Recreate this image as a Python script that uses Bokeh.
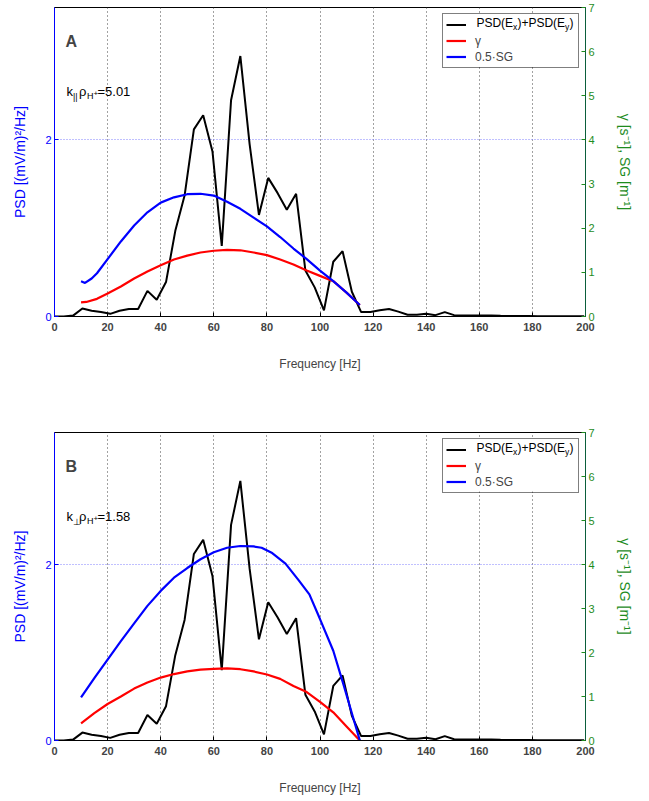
from bokeh.plotting import figure
from bokeh.models import (Range1d, LinearAxis, FixedTicker, Legend, LegendItem,
                          Label, BoxAnnotation)
from bokeh.layouts import column
from bokeh.embed import file_html
from bokeh.resources import INLINE

# PSD(Ex)+PSD(Ey) [(mV/m)^2/Hz], same spectrum in both panels
freq = [0, 3.5, 7, 10.5, 14, 17.5, 21, 24.5, 28, 31.5, 35, 38.5, 42, 45.5, 49,
        52.5, 56, 59.5, 63, 66.5, 70, 73.5, 77, 80.5, 84, 87.5, 91, 94.5, 98,
        101.5, 105, 108.5, 112, 115.5, 119, 122.5, 126, 129.5, 133, 136.5, 140,
        143.5, 147, 150.5, 154, 157.5, 161, 164.5, 168, 171.5, 175, 178.5, 182,
        185.5, 189, 192.5, 196, 199.5]
psd = [0.0, 0.0, 0.01, 0.09, 0.065, 0.05, 0.03, 0.065, 0.085, 0.085, 0.29, 0.19,
       0.39, 0.97, 1.37, 2.12, 2.28, 1.87, 0.80, 2.45, 2.95, 1.95, 1.15, 1.57,
       1.40, 1.21, 1.39, 0.52, 0.33, 0.07, 0.62, 0.74, 0.28, 0.05, 0.05, 0.07,
       0.085, 0.055, 0.02, 0.02, 0.03, 0.015, 0.05, 0.015, 0.01, 0.01, 0.01,
       0.012, 0.008, 0.006, 0.005, 0.005, 0.004, 0.004, 0.003, 0.003, 0.002, 0.002]

# panel A (k_par rho = 5.01), right axis units
gamma_a_freq = [10, 12, 16, 20, 25, 30, 35, 40, 45, 50, 55, 60, 65, 70, 75, 80,
                85, 90, 95, 100, 105, 110, 115]
gamma_a = [0.32, 0.33, 0.40, 0.52, 0.68, 0.86, 1.02, 1.16, 1.29, 1.38, 1.45, 1.49,
           1.51, 1.50, 1.45, 1.39, 1.29, 1.18, 1.04, 0.92, 0.80, 0.54, 0.26]
sg_a_freq = [10, 11.5, 14, 16, 20, 25, 30, 35, 40, 45, 50, 55, 60, 65, 70, 75, 80,
             85, 90, 95, 100, 105, 110, 115]
half_sg_a = [0.80, 0.76, 0.86, 0.98, 1.30, 1.70, 2.06, 2.36, 2.58, 2.70, 2.77, 2.78,
             2.74, 2.60, 2.44, 2.24, 2.04, 1.80, 1.54, 1.30, 1.04, 0.80, 0.54, 0.26]

# panel B (k_perp rho = 1.58)
gamma_b_freq = [10, 15, 20, 25, 30, 35, 40, 45, 50, 55, 60, 65, 70, 75, 80, 85,
                90, 95, 100, 105, 110, 115]
gamma_b = [0.39, 0.62, 0.83, 1.00, 1.18, 1.32, 1.43, 1.51, 1.57, 1.61, 1.63, 1.64,
           1.62, 1.57, 1.50, 1.40, 1.24, 1.10, 0.88, 0.64, 0.32, 0.0]
sg_b_freq = [10, 15, 20, 25, 30, 35, 40, 45, 50, 55, 60, 65, 70, 75, 78, 82, 87,
             92, 96, 100, 105, 109, 115]
half_sg_b = [0.98, 1.42, 1.84, 2.26, 2.66, 3.06, 3.40, 3.70, 3.92, 4.12, 4.28, 4.38,
             4.42, 4.41, 4.38, 4.26, 4.02, 3.64, 3.32, 2.76, 2.04, 1.24, 0.0]

x_ticks = [0, 20, 40, 60, 80, 100, 120, 140, 160, 180, 200]
psd_ticks = [0, 2]
rate_ticks = [0, 1, 2, 3, 4, 5, 6, 7]

FONT = "Liberation Sans"
BLUE = "#0000ff"
RED = "#ff0000"
GREEN = "#1e8c1e"


def add_pieces(p, x, y, pieces, baseline="alphabetic"):
    # text with sub/superscripts built from several labels
    for text, size, dx, dy in pieces:
        p.add_layout(Label(x=x, y=y, x_offset=dx, y_offset=dy, text=text,
                           text_font=FONT, text_font_size=size,
                           text_baseline=baseline, text_color="black"))


def make_panel(letter, k_sub, k_val, g_f, g_v, s_f, s_v, frame_h, top, bottom):
    p = figure(frame_width=531, frame_height=frame_h,
               x_range=Range1d(0, 200), y_range=Range1d(0, 3.5),
               output_backend="svg", toolbar_location=None,
               min_border_left=54, min_border_right=62,
               min_border_top=top, min_border_bottom=bottom,
               background_fill_color="white", border_fill_color="white",
               outline_line_color="black")
    p.extra_y_ranges = {"rate": Range1d(0, 7)}

    # x axis
    xa = p.xaxis[0]
    xa.ticker = FixedTicker(ticks=x_ticks)
    xa.axis_label = "Frequency [Hz]"
    xa.axis_label_text_font = FONT
    xa.axis_label_text_font_size = "12px"
    xa.axis_label_text_font_style = "normal"
    xa.axis_label_standoff = 23
    xa.major_label_text_font = FONT
    xa.major_label_text_font_size = "11px"
    xa.major_label_text_font_style = "bold"
    xa.major_label_standoff = 6
    xa.major_tick_in = 4
    xa.major_tick_out = 0
    xa.axis_line_color = "black"

    # left axis, PSD
    ya = p.yaxis[0]
    ya.ticker = FixedTicker(ticks=psd_ticks)
    ya.axis_label = "PSD [(mV/m)²/Hz]"
    ya.axis_label_text_font = FONT
    ya.axis_label_text_font_size = "14px"
    ya.axis_label_text_font_style = "normal"
    ya.axis_label_text_color = BLUE
    ya.axis_label_standoff = 14
    ya.major_label_text_font = FONT
    ya.major_label_text_font_size = "11px"
    ya.major_label_text_color = BLUE
    ya.major_label_standoff = 3
    ya.axis_line_color = BLUE
    ya.major_tick_line_color = BLUE
    ya.major_tick_in = 4
    ya.major_tick_out = 0

    # right axis, growth rate / spatial growth
    ra = LinearAxis(y_range_name="rate", ticker=FixedTicker(ticks=rate_ticks),
                    axis_label="γ [s⁻¹], SG [m⁻¹]")
    ra.axis_label_text_font = FONT
    ra.axis_label_text_font_size = "14px"
    ra.axis_label_text_font_style = "normal"
    ra.axis_label_text_color = GREEN
    ra.axis_label_standoff = 19
    ra.major_label_text_font = FONT
    ra.major_label_text_font_size = "11px"
    ra.major_label_text_color = GREEN
    ra.major_label_standoff = 3
    ra.axis_line_color = "#0b5e3b"
    ra.major_tick_line_color = GREEN
    ra.major_tick_in = 4
    ra.major_tick_out = 0
    p.add_layout(ra, "right")

    p.xgrid.ticker = FixedTicker(ticks=x_ticks)
    p.xgrid.grid_line_color = "#444444"
    p.xgrid.grid_line_dash = "1 3"
    p.xgrid.grid_line_width = 1
    p.ygrid.ticker = FixedTicker(ticks=[2])
    p.ygrid.grid_line_color = "#8080ff"
    p.ygrid.grid_line_dash = "1 2"
    p.ygrid.grid_line_width = 1

    # white fill behind the legend box (legend itself is transparent)
    px_y = 3.5 / frame_h
    px_x = 200 / 531
    p.add_layout(BoxAnnotation(left=(531 - 142) * px_x, right=(531 - 6) * px_x,
                               top=3.5 - 6 * px_y, bottom=3.5 - 59 * px_y,
                               fill_color="white", fill_alpha=1.0,
                               line_alpha=0, level="glyph"))

    r_psd = p.line(freq, psd, line_color="black", line_width=2)
    r_gam = p.line(g_f, g_v, line_color=RED, line_width=2.2, y_range_name="rate")
    r_sg = p.line(s_f, s_v, line_color=BLUE, line_width=2.2, y_range_name="rate")

    legend = Legend(items=[LegendItem(label=" ", renderers=[r_psd]),
                           LegendItem(label="γ", renderers=[r_gam]),
                           LegendItem(label="0.5·SG", renderers=[r_sg])],
                    location="top_right", margin=6, padding=3, spacing=1,
                    glyph_width=20, glyph_height=15, label_height=15,
                    label_width=100, label_standoff=9,
                    label_text_font=FONT, label_text_font_size="12px",
                    border_line_color="black", border_line_width=1.5,
                    background_fill_alpha=0.0)
    p.add_layout(legend)

    # first legend label with subscripts
    add_pieces(p, 158.9, 3.5 - 16.5 * px_y,
               [("PSD(E", "12px", 0, 1), ("x", "8.5px", 36.7, -3),
                (")+PSD(E", "12px", 41.0, 1), ("y", "8.5px", 88.7, -3),
                (")", "12px", 93.0, 1)], baseline="middle")

    p.add_layout(Label(x=4.1, y=3.013, text=letter, text_font=FONT,
                       text_font_size="16px", text_font_style="bold"))
    add_pieces(p, 4.5, 2.545, [("k", "13px", 0, 0), (k_sub, "9px", 6.5, -5),
                               ("ρ", "13px", 12.5, 0), ("H", "9px", 20.5, -4),
                               ("+", "8px", 27, -2), ("=" + k_val, "13px", 31, 0)])
    return p


p1 = make_panel("A", "||", "5.01", gamma_a_freq, gamma_a, sg_a_freq, half_sg_a,
                309, 7, 86)
p2 = make_panel("B", "⊥", "1.58", gamma_b_freq, gamma_b, sg_b_freq, half_sg_b,
                308, 30, 50)

p = column(p1, p2, spacing=0)
open("out.html", "w").write(file_html(p, INLINE))
